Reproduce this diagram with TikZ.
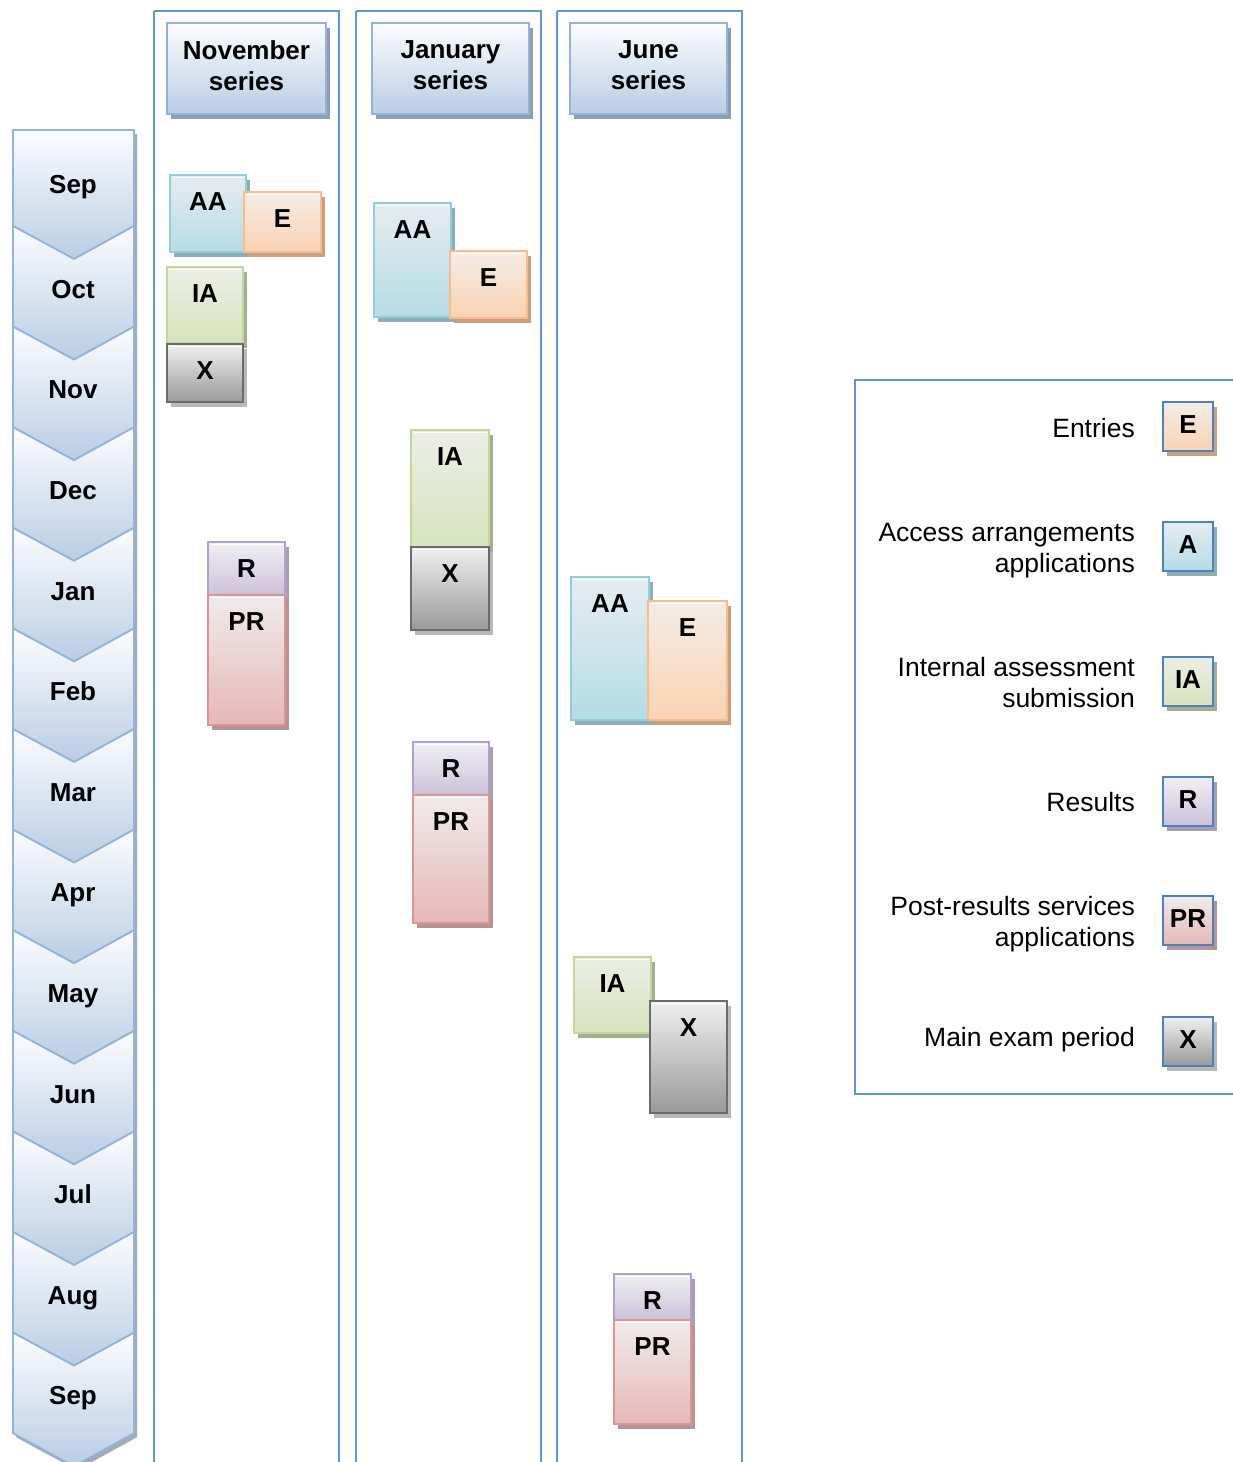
\documentclass[tikz,border=0pt]{standalone}
\usepackage{fontspec}
\setmainfont{Liberation Sans}
\definecolor{aaT}{HTML}{E6ECEF}\definecolor{aaB}{HTML}{B5DCE6}\definecolor{aaD}{HTML}{93CDDD}\definecolor{aaS}{HTML}{8FADB5}
\definecolor{eeT}{HTML}{F4ECE6}\definecolor{eeB}{HTML}{FAD3B2}\definecolor{eeD}{HTML}{F9BD8D}\definecolor{eeS}{HTML}{C9A082}
\definecolor{iaT}{HTML}{ECEEE6}\definecolor{iaB}{HTML}{D6E3BB}\definecolor{iaD}{HTML}{C3D69B}\definecolor{iaS}{HTML}{A5AE90}
\definecolor{xxT}{HTML}{F0F0F0}\definecolor{xxB}{HTML}{999999}\definecolor{xxD}{HTML}{6B6B6B}\definecolor{xxS}{HTML}{B8B8B8}
\definecolor{rrT}{HTML}{F1F0F4}\definecolor{rrB}{HTML}{CBC0DA}\definecolor{rrD}{HTML}{B3A2C7}\definecolor{rrS}{HTML}{A89DB3}
\definecolor{prT}{HTML}{F1EBEB}\definecolor{prB}{HTML}{E5B8B7}\definecolor{prD}{HTML}{D99694}\definecolor{prS}{HTML}{B49494}
\definecolor{hdT}{HTML}{FCFDFE}\definecolor{hdB}{HTML}{B9CDE5}\definecolor{hdD}{HTML}{95B3D7}\definecolor{hdS}{HTML}{8D9DB5}
\definecolor{laneC}{HTML}{6595D3}\definecolor{lgD}{HTML}{4F81BD}\definecolor{chS}{HTML}{A3ABB8}
\tikzset{
  tb/.style={shade, top color=#1T, bottom color=#1B, draw=#1D, line width=1.8pt, inner sep=0pt, outer sep=0pt, anchor=north west},
  lgb/.style={shade, top color=#1T, bottom color=#1B, draw=lgD, line width=2.4pt, inner sep=0pt, outer sep=0pt, anchor=north west, minimum width=50pt, minimum height=49pt},
  lbl/.style={font=\fontsize{26}{31}\selectfont\bfseries, inner sep=0pt, text height=18.6pt, text depth=0pt},
  hdl/.style={font=\fontsize{26}{31}\selectfont\bfseries, inner sep=0pt, align=center},
  lgt/.style={font=\fontsize{26.5}{31}\selectfont, inner sep=0pt, align=right, anchor=east},
  chev/.style={top color=hdT, bottom color=hdB, draw=hdD, line width=1.8pt, line join=miter},
  lane/.style={draw=laneC, line width=1.8pt},
}
\newcommand\tlbox[7]{%
  \fill[#6S] (#2+4,#3+5) rectangle (#4+4,#5+5);
  \node[tb=#6, minimum width=#4pt-#2pt, minimum height=#5pt-#3pt] (#1) at (#2,#3) {};
  \draw[white, line width=1.4pt] ([xshift=2.5pt,yshift=-2.5pt]#1.north west) -- ([xshift=-2.5pt,yshift=-2.5pt]#1.north east);
  \node[lbl] (#1t) at ([yshift=-26pt]#1.north) {#7};
}
\newcommand\lgbox[4]{%
  \fill[#3S] (1167,#2+5) rectangle (1217,#2+54);
  \node[lgb=#3] (#1) at (1163,#2) {};
  \node[lbl] (#1t) at ([yshift=2pt]#1.center) {#4};
}
\begin{document}
\begin{tikzpicture}[x=1pt,y=-1pt]
\useasboundingbox (0,0) rectangle (1232,1462);
% lanes
\draw[lane] (154,11) -- (154,1475);
\draw[lane] (154,11) -- (339,11) -- (339,1475);
\draw[lane] (356,11) -- (356,1475);
\draw[lane] (356,11) -- (541,11) -- (541,1475);
\draw[lane] (557,11) -- (557,1475);
\draw[lane] (557,11) -- (742,11) -- (742,1475);
% chevrons
\fill[chS] (16,134) -- (137,134) -- (137,230) -- (77,263) -- (16,230) -- cycle;
\path[chev] (13,130) -- (134,130) -- (134,226) -- (74,259) -- (13,226) -- cycle;
\foreach \i in {1,...,12} {
  \pgfmathsetmacro\T{226+100.6*(\i-1)}
  \fill[chS] (16,\T+4) -- (77,\T+37) -- (137,\T+4) -- (137,\T+104.6) -- (77,\T+137.6) -- (16,\T+104.6) -- cycle;
  \path[chev] (13,\T) -- (74,\T+33) -- (134,\T) -- (134,\T+100.6) -- (74,\T+133.6) -- (13,\T+100.6) -- cycle;
}
\node[lbl] (m0) at (73,184) {Sep};
\foreach \m [count=\k from 0] in {Oct,Nov,Dec,Jan,Feb,Mar,Apr,May,Jun,Jul,Aug,Sep} {
  \node[lbl] (m\k x) at (73,289+100.6*\k) {\m};
}
% headers
\fill[hdS] (171,28) rectangle (330,119);
\node[tb=hd, minimum width=159pt, minimum height=91pt] (hN) at (167,23) {};
\node[hdl] (hNt) at ([yshift=3pt]hN.center) {November\\series};
\fill[hdS] (376,28) rectangle (533,119);
\node[tb=hd, minimum width=157pt, minimum height=91pt] (hJ) at (372,23) {};
\node[hdl] (hJt) at ([yshift=3pt]hJ.center) {January\\series};
\fill[hdS] (574,28) rectangle (731,119);
\node[tb=hd, minimum width=157pt, minimum height=91pt] (hU) at (570,23) {};
\node[hdl] (hUt) at ([yshift=3pt]hU.center) {June\\series};
% November series
\tlbox{nAA}{170}{175}{246}{252}{aa}{AA}
\tlbox{nE}{244}{192}{321}{252}{ee}{E}
\tlbox{nIA}{167}{267}{243}{343}{ia}{IA}
\tlbox{nX}{167}{344}{243}{402}{xx}{X}
\tlbox{nR}{208}{542}{285}{595}{rr}{R}
\tlbox{nPR}{208}{595}{285}{725}{pr}{PR}
% January series
\tlbox{jAA}{374}{203}{451}{317}{aa}{AA}
\tlbox{jE}{450}{251}{527}{318}{ee}{E}
\tlbox{jIA}{411}{430}{489}{547}{ia}{IA}
\tlbox{jX}{411}{547}{489}{630}{xx}{X}
\tlbox{jR}{413}{742}{489}{795}{rr}{R}
\tlbox{jPR}{413}{795}{489}{923}{pr}{PR}
% June series
\tlbox{uAA}{571}{577}{649}{720}{aa}{AA}
\tlbox{uE}{648}{601}{727}{720}{ee}{E}
\tlbox{uIA}{574}{957}{651}{1033}{ia}{IA}
\tlbox{uX}{650}{1001}{727}{1113}{xx}{X}
\tlbox{uR}{614}{1274}{691}{1320}{rr}{R}
\tlbox{uPR}{614}{1320}{691}{1424}{pr}{PR}
% legend
\draw[draw=lgD!85, line width=1.8pt] (1240,380) -- (855,380) -- (855,1094) -- (1240,1094);
\node[lgt] (tE) at (1135,428) {Entries};
\node[lgt] (tA) at (1135,551) {Access arrangements\\applications};
\node[lgt] (tI) at (1135,683) {Internal assessment\\submission};
\node[lgt] (tR) at (1135,802) {Results};
\node[lgt] (tP) at (1135,924) {Post-results services\\applications};
\node[lgt] (tX) at (1135,1040) {Main exam period};
\lgbox{lE}{402}{ee}{E}
\lgbox{lA}{522}{aa}{A}
\lgbox{lI}{657}{ia}{IA}
\lgbox{lR}{777}{rr}{R}
\lgbox{lP}{896}{pr}{PR}
\lgbox{lX}{1017}{xx}{X}
\end{tikzpicture}
\end{document}
